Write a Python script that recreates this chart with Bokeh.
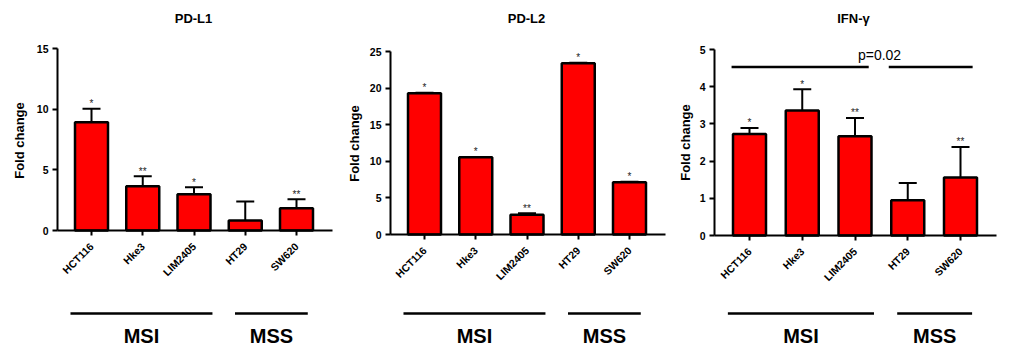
import math
from bokeh.plotting import figure
from bokeh.models import Range1d, LinearAxis, FixedTicker
from bokeh.layouts import row
from bokeh.core.properties import value
from bokeh.embed import file_html
from bokeh.resources import INLINE

# ---------------- data ----------------
cell_lines = ["HCT116", "Hke3", "LIM2405", "HT29", "SW620"]
groups = ["MSI", "MSS"]

pdl1_mean = [8.93, 3.65, 2.98, 0.82, 1.83]
pdl1_upper = [10.03, 4.48, 3.56, 2.38, 2.58]
pdl1_stars = ["*", "**", "*", "", "**"]

pdl2_mean = [19.3, 10.55, 2.7, 23.4, 7.15]
pdl2_upper = [19.35, 10.6, 2.9, 23.45, 7.2]
pdl2_stars = ["*", "*", "**", "*", "*"]

ifng_mean = [2.73, 3.36, 2.67, 0.95, 1.56]
ifng_upper = [2.89, 3.93, 3.16, 1.41, 2.38]
ifng_stars = ["*", "*", "**", "", "**"]

ifng_p_text = "p=0.02"
ifng_p_level = 4.53

FONT = "Liberation Sans"
RED = "#ff0000"
H = 354


def make_panel(title, mean, upper, stars, ymax, ystep, W, axis_px, c0, s,
               y0px, ytop_px, ylab_cx, ylab_cy, xend_px, title_cx, pval=None):
    k = (y0px - ytop_px) / ymax

    def X(px):
        return (px - c0) / s

    def Y(py):
        return (y0px - py) / k

    p = figure(width=W, height=H, x_range=Range1d(X(0), X(W)),
               y_range=Range1d(Y(H), Y(0)), output_backend="svg",
               toolbar_location=None, min_border=0, x_axis_type=None,
               y_axis_type=None)
    p.outline_line_color = None
    p.grid.visible = False
    p.background_fill_color = "white"
    p.border_fill_color = "white"

    idx = list(range(len(cell_lines)))

    # axes
    yaxis = LinearAxis(fixed_location=X(axis_px), bounds=(0, ymax),
                       ticker=FixedTicker(ticks=list(range(0, ymax + 1, ystep))))
    xaxis = LinearAxis(fixed_location=0, bounds=(X(axis_px), X(xend_px)),
                       ticker=FixedTicker(ticks=idx),
                       major_label_overrides={i: n for i, n in zip(idx, cell_lines)},
                       major_label_orientation=math.pi / 4)
    for ax in (yaxis, xaxis):
        ax.axis_line_width = 2
        ax.axis_line_color = "black"
        ax.major_tick_line_width = 2
        ax.major_tick_out = 5
        ax.major_tick_in = 0
        ax.minor_tick_out = 0
        ax.minor_tick_in = 0
        ax.major_label_text_font = FONT
        ax.major_label_text_font_style = "bold"
        ax.major_label_text_color = "black"
    yaxis.major_label_text_font_size = "10.5px"
    yaxis.major_label_standoff = 4
    xaxis.major_label_text_font_size = "10.5px"
    xaxis.major_label_standoff = 9
    p.add_layout(yaxis, "left")
    p.add_layout(xaxis, "below")

    # bars
    p.vbar(x=idx, top=mean, bottom=0, width=33 / s, fill_color=RED,
           line_color="black", line_width=2.5)
    # error bars (upper only)
    cw = 9 / s
    p.segment(x0=idx, y0=mean, x1=idx, y1=upper, line_color="black", line_width=2)
    p.segment(x0=[i - cw for i in idx], y0=upper, x1=[i + cw for i in idx],
              y1=upper, line_color="black", line_width=2)
    # significance stars
    p.text(x=idx, y=upper, text=stars, text_font=value(FONT),
           text_font_size="10px", text_align="center",
           text_baseline="alphabetic", y_offset=-5, text_color="#222222")

    # title
    p.text(x=[X(title_cx)], y=[Y(18)], text=[title], text_font=value(FONT),
           text_font_size="13px", text_font_style="bold", text_align="center",
           text_baseline="middle", text_color="black")
    # y axis label
    p.text(x=[X(ylab_cx)], y=[Y(ylab_cy)], text=["Fold change"],
           text_font=value(FONT), text_font_size="13px",
           text_font_style="bold", text_align="center", text_baseline="middle",
           angle=math.pi / 2, text_color="black")

    # group lines and labels
    g0 = [-0.41, 2.80]
    g1 = [2.36, 4.22]
    gy = Y(313)
    p.segment(x0=g0, y0=[gy] * 2, x1=g1, y1=[gy] * 2, line_color="black",
              line_width=2.5)
    p.text(x=[(a + b) / 2 for a, b in zip(g0, g1)], y=[Y(335)] * 2, text=groups,
           text_font=value(FONT), text_font_size="20px", text_font_style="bold",
           text_align="center", text_baseline="middle", text_color="black")

    if pval is not None:
        txt, lvl = pval
        p.segment(x0=[-0.34, 2.64], y0=[lvl, lvl], x1=[2.26, 4.23], y1=[lvl, lvl],
                  line_color="black", line_width=2.3)
        p.text(x=[2.465], y=[lvl + 12 / k], text=[txt], text_font=value(FONT),
               text_font_size="14px", text_align="center",
               text_baseline="alphabetic", text_color="black")
    return p


p1 = make_panel("PD-L1", pdl1_mean, pdl1_upper, pdl1_stars, 15, 5, 340, 57, 91,
                51.25, 230, 48, 19, 140, 332, 193)
p2 = make_panel("PD-L2", pdl2_mean, pdl2_upper, pdl2_stars, 25, 5, 333, 50, 84,
                51.25, 234, 51, 14, 143, 325, 186)
p3 = make_panel("IFN-\u03b3", ifng_mean, ifng_upper, ifng_stars, 5, 1, 340, 41, 76,
                52.75, 235, 49, 12, 142, 323, 180, pval=(ifng_p_text, ifng_p_level))

layout = row(p1, p2, p3, spacing=0)
open("out.html", "w").write(file_html(layout, INLINE))
